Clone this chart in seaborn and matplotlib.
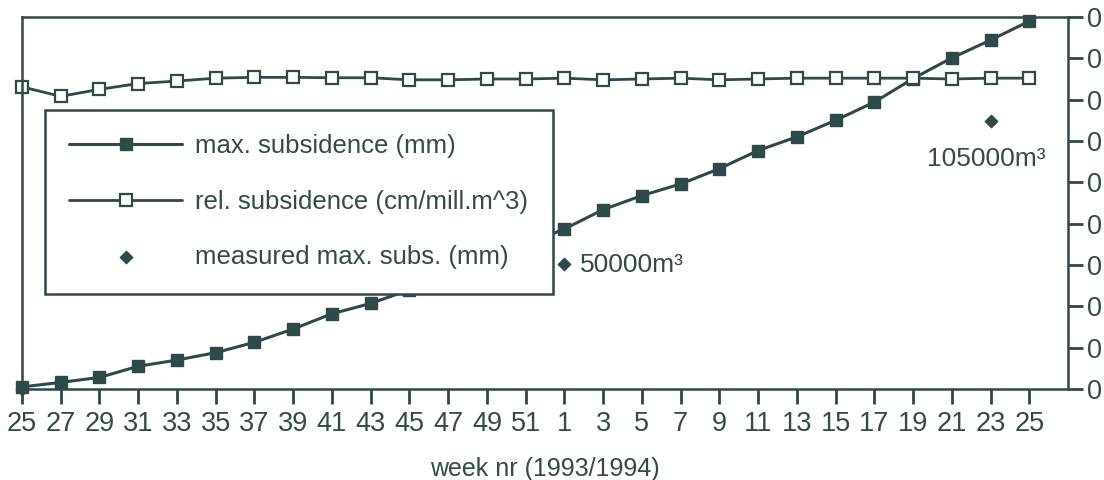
import numpy as np
import pandas as pd
import matplotlib
matplotlib.use("Agg")
import matplotlib.pyplot as plt
import seaborn as sns

# week numbers along the x axis (two-week steps, 1993 -> 1994)
weeks = [25, 27, 29, 31, 33, 35, 37, 39, 41, 43, 45, 47, 49, 51,
         1, 3, 5, 7, 9, 11, 13, 15, 17, 19, 21, 23, 25]
years = [1993] * 14 + [1994] * 13

# values in right-axis tick units (0 .. 9)
max_subsidence = [0.05, 0.16, 0.28, 0.55, 0.70, 0.88, 1.13, 1.45, 1.82, 2.07,
                  2.40, 2.75, 3.10, 3.50, 3.87, 4.34, 4.68, 4.96, 5.33, 5.77,
                  6.10, 6.50, 6.94, 7.51, 8.01, 8.44, 8.90]
rel_subsidence = [7.31, 7.08, 7.25, 7.39, 7.45, 7.52, 7.54, 7.54, 7.53, 7.53,
                  7.48, 7.48, 7.50, 7.50, 7.52, 7.48, 7.50, 7.52, 7.48, 7.50,
                  7.52, 7.52, 7.52, 7.52, 7.50, 7.52, 7.52]

measured_weeks = [25, 1, 23]
measured_years = [1993, 1994, 1994]
measured_values = [0.0, 3.03, 6.48]
measured_notes = ["", "50000m³", "105000m³"]

right_ticks = list(range(10))
right_labels = ["0"] * 10

ink = "#2f4848"
text_ink = "#354949"

sns.set_theme(style="white")
plt.rcParams["font.family"] = ["Liberation Sans", "DejaVu Sans"]

df = pd.DataFrame({"pos": np.arange(len(weeks)), "week": weeks, "year": years,
                   "max_subs": max_subsidence, "rel_subs": rel_subsidence})
meas = pd.DataFrame({"week": measured_weeks, "year": measured_years,
                     "value": measured_values, "note": measured_notes})
meas = meas.merge(df[["week", "year", "pos"]], on=["week", "year"])

fig = plt.figure(figsize=(11.04, 4.8), dpi=100)
ax = fig.add_axes([22 / 1104, 1 - 389 / 480, 1046 / 1104, 372 / 480])

sns.lineplot(data=df, x="pos", y="max_subs", ax=ax, color=ink, linewidth=2.2,
             marker="s", markersize=8.3, markerfacecolor=ink, markeredgecolor=ink,
             markeredgewidth=1, label="max. subsidence (mm)", clip_on=False)
sns.lineplot(data=df, x="pos", y="rel_subs", ax=ax, color=ink, linewidth=2.0,
             marker="s", markersize=8.5, markerfacecolor="white", markeredgecolor=ink,
             markeredgewidth=1.6, label="rel. subsidence (cm/mill.m^3)", clip_on=False)
sns.scatterplot(data=meas, x="pos", y="value", ax=ax, marker="D", s=45, color=ink,
                edgecolor=ink, label="measured max. subs. (mm)", clip_on=False, zorder=5)

# volume notes next to the measured points
for _, r in meas.iterrows():
    if r["note"] == "":
        continue
    if r["week"] == 1:
        ax.annotate(r["note"], (r["pos"], r["value"]), xytext=(11, -1),
                    textcoords="offset points", ha="left", va="center",
                    fontsize=19, color=text_ink)
    else:
        ax.annotate(r["note"], (r["pos"], r["value"]), xytext=(-3, -27),
                    textcoords="offset points", ha="center", va="center",
                    fontsize=19, color=text_ink)

ax.set_xlim(0, len(weeks))
ax.set_ylim(0, 9)
ax.set_xticks(df["pos"])
ax.set_xticklabels([str(w) for w in weeks])
ax.yaxis.tick_right()
ax.set_yticks(right_ticks)
ax.set_yticklabels(right_labels)
ax.tick_params(axis="x", direction="out", length=11, width=2, color=ink,
               labelsize=19.5, labelcolor=text_ink, pad=5, bottom=True)
ax.tick_params(axis="y", direction="out", length=11, width=2, color=ink,
               labelsize=19.5, labelcolor=text_ink, pad=3, right=True, left=False)
ax.set_xlabel("week nr (1993/1994)", fontsize=18, color=text_ink, labelpad=14)
ax.set_ylabel("")
for sp in ax.spines.values():
    sp.set_visible(True)
    sp.set_color(ink)
    sp.set_linewidth(1.8)

leg = ax.legend(loc="upper left", bbox_to_anchor=(45 / 1104, 1 - 110 / 480),
                bbox_transform=fig.transFigure, borderaxespad=0, fancybox=False,
                framealpha=1, edgecolor=ink, fontsize=18.5, handlelength=4.4,
                handletextpad=0.5, labelspacing=1.22, borderpad=0.95)
leg.get_frame().set_linewidth(1.8)
for t in leg.get_texts():
    t.set_color(text_ink)

fig.savefig("out.png", dpi=100)
